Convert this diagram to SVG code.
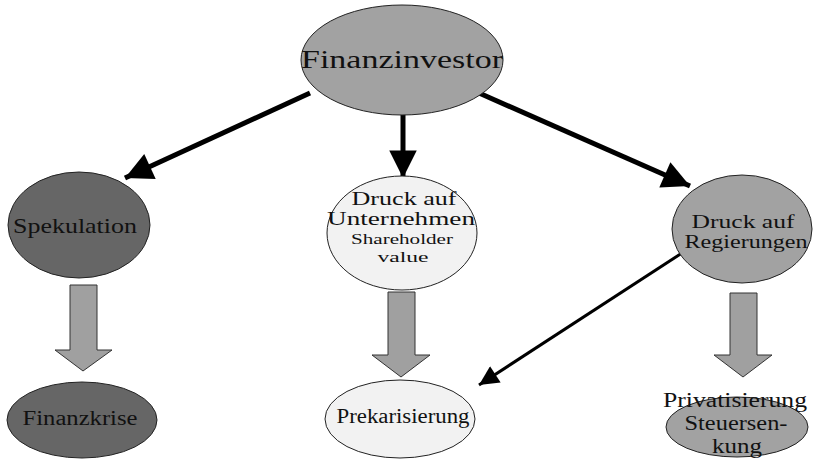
<svg xmlns="http://www.w3.org/2000/svg" width="815" height="461" viewBox="0 0 815 461">
<defs>
<style>
.n{stroke:#222;stroke-width:1}
.dark{fill:#666}
.mid{fill:#a2a2a2}
.light{fill:#f2f2f2}
text{font-family:"Liberation Serif","Times New Roman",serif;fill:#111;text-anchor:middle}
.blk{fill:#a0a0a0;stroke:#333;stroke-width:1}
.ln{stroke:#000;fill:none}
</style>
<marker id="ah" viewBox="0 0 10 10" refX="10" refY="5" markerWidth="6" markerHeight="5.5" orient="auto" markerUnits="strokeWidth">
<path d="M0,0 L10,5 L0,10 z" fill="#000"/>
</marker>
<marker id="ah2" viewBox="0 0 10 10" refX="10" refY="5" markerWidth="7" markerHeight="6.5" orient="auto" markerUnits="strokeWidth">
<path d="M0,0 L10,5 L0,10 z" fill="#000"/>
</marker>
</defs>
<rect width="815" height="461" fill="#fff"/>
<g id="connectors">
<line class="ln" x1="310" y1="93" x2="125" y2="178" stroke-width="5" marker-end="url(#ah)"/>
<line class="ln" x1="403" y1="113" x2="403" y2="178" stroke-width="5" marker-end="url(#ah)"/>
<line class="ln" x1="479" y1="93" x2="690" y2="186" stroke-width="5" marker-end="url(#ah)"/>
<line class="ln" x1="682" y1="253" x2="479" y2="385" stroke-width="3" marker-end="url(#ah2)"/>
<polygon class="blk" points="70,285 97,285 97,350 112,350 83,371 55,350 70,350"/>
<polygon class="blk" points="388,292 415,292 415,355 430,355 401,377 372,355 388,355"/>
<polygon class="blk" points="730,293 757,293 757,355 772,355 743,377 714,355 730,355"/>
</g>
<g id="finanzinvestor">
<ellipse class="n mid" cx="402" cy="60" rx="101" ry="55"/>
<text x="402" y="68" font-size="25" textLength="202" lengthAdjust="spacingAndGlyphs">Finanzinvestor</text>
</g>
<g id="spekulation">
<ellipse class="n dark" cx="79" cy="225" rx="71" ry="53"/>
<text x="75" y="233" font-size="21" textLength="124" lengthAdjust="spacingAndGlyphs">Spekulation</text>
</g>
<g id="unternehmen">
<ellipse class="n light" cx="402" cy="233" rx="75" ry="57"/>
<text x="404" y="205" font-size="18" textLength="105" lengthAdjust="spacingAndGlyphs">Druck auf</text>
<text x="401" y="225" font-size="18" textLength="148" lengthAdjust="spacingAndGlyphs">Unternehmen</text>
<text x="402" y="244" font-size="15" textLength="102" lengthAdjust="spacingAndGlyphs">Shareholder</text>
<text x="403" y="262" font-size="15" textLength="51" lengthAdjust="spacingAndGlyphs">value</text>
</g>
<g id="regierungen">
<ellipse class="n mid" cx="742" cy="229" rx="70" ry="54"/>
<text x="743" y="228" font-size="18" textLength="103" lengthAdjust="spacingAndGlyphs">Druck auf</text>
<text x="746" y="248" font-size="18" textLength="123" lengthAdjust="spacingAndGlyphs">Regierungen</text>
</g>
<g id="finanzkrise">
<ellipse class="n dark" cx="82" cy="420" rx="75" ry="38"/>
<text x="80" y="425" font-size="20" textLength="115" lengthAdjust="spacingAndGlyphs">Finanzkrise</text>
</g>
<g id="prekarisierung">
<ellipse class="n light" cx="400" cy="419" rx="75" ry="39"/>
<text x="403" y="423" font-size="20" textLength="133" lengthAdjust="spacingAndGlyphs">Prekarisierung</text>
</g>
<g id="privatisierung">
<ellipse class="n mid" cx="737" cy="427" rx="71" ry="30"/>
<text x="735" y="407" font-size="20" textLength="144" lengthAdjust="spacingAndGlyphs">Privatisierung</text>
<text x="736" y="430" font-size="20" textLength="103" lengthAdjust="spacingAndGlyphs">Steuersen-</text>
<text x="737" y="453" font-size="20" textLength="50" lengthAdjust="spacingAndGlyphs">kung</text>
</g>
</svg>
